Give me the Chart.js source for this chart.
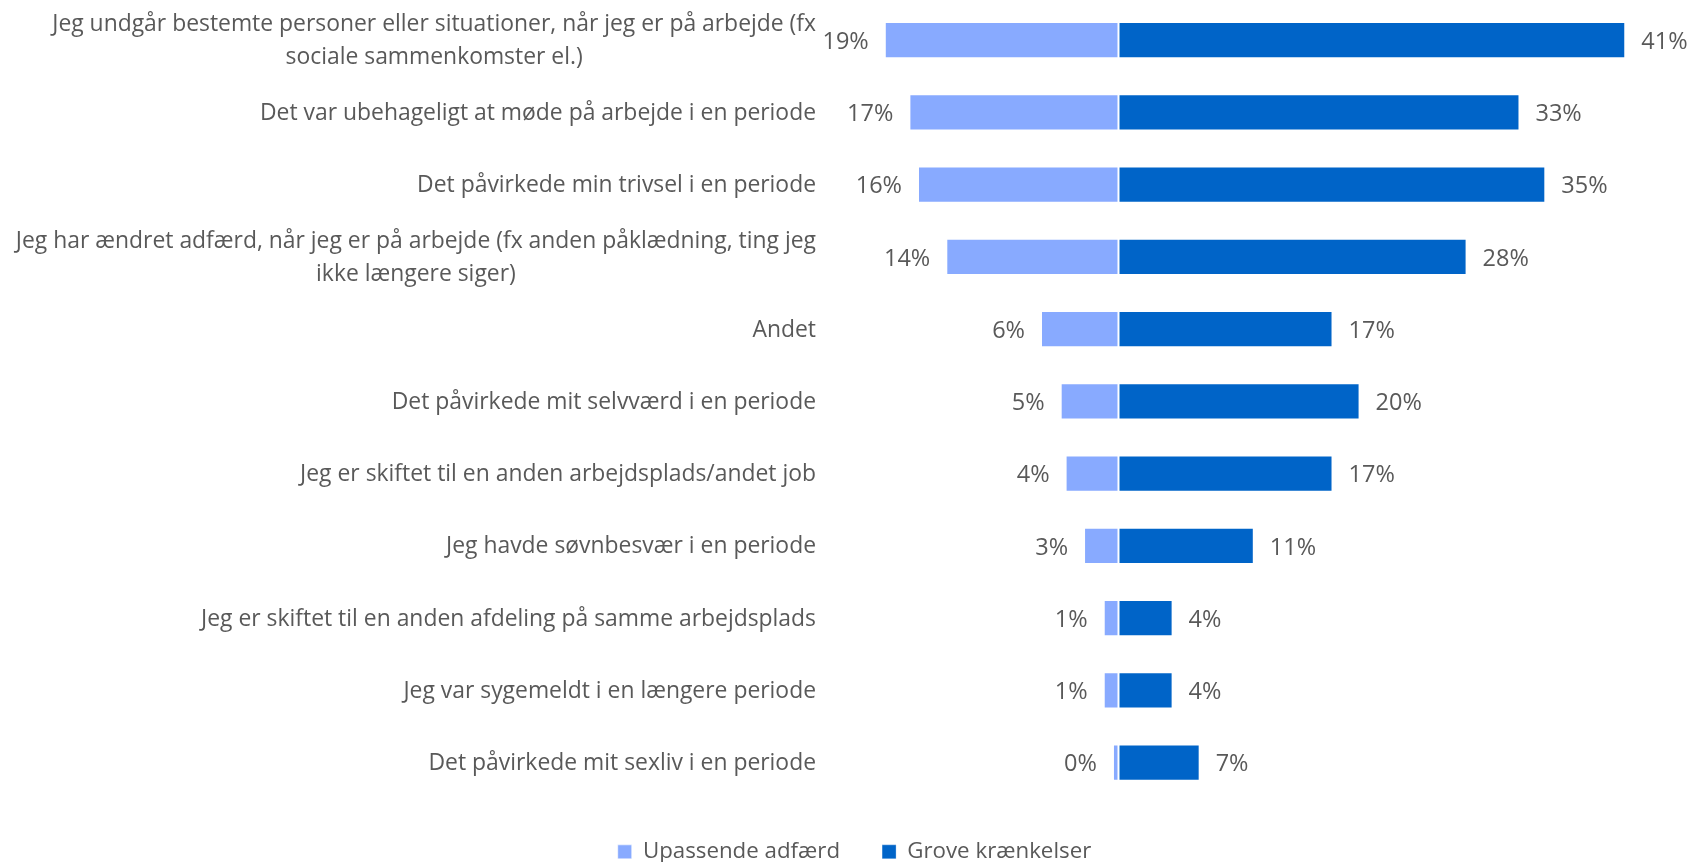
<!DOCTYPE html>
<html><head><meta charset="utf-8">
<script src="https://cdn.jsdelivr.net/npm/chart.js@4.4.1/dist/chart.umd.min.js"></script>
<style>html,body{margin:0;padding:0;background:#fff;}#wrap{width:1690px;height:862px;position:relative;}</style>
</head><body><div id="wrap"><canvas id="c"></canvas></div>
<script>
const categories = [
  ['Jeg undgår bestemte personer eller situationer, når jeg er på arbejde (fx', 'sociale sammenkomster el.)'],
  'Det var ubehageligt at møde på arbejde i en periode',
  'Det påvirkede min trivsel i en periode',
  ['Jeg har ændret adfærd, når jeg er på arbejde (fx anden påklædning, ting jeg', 'ikke længere siger)'],
  'Andet',
  'Det påvirkede mit selvværd i en periode',
  'Jeg er skiftet til en anden arbejdsplads/andet job',
  'Jeg havde søvnbesvær i en periode',
  'Jeg er skiftet til en anden afdeling på samme arbejdsplads',
  'Jeg var sygemeldt i en længere periode',
  'Det påvirkede mit sexliv i en periode'
];
const seriesNames = ['Upassende adfærd', 'Grove krænkelser'];
const upassende = [19.0, 17.0, 16.3, 14.0, 6.3, 4.7, 4.3, 2.8, 1.2, 1.2, 0.45];
const grove = [41.2, 32.6, 34.7, 28.3, 17.4, 19.6, 17.4, 11.0, 4.4, 4.4, 6.6];

const FONT = '"Open Sans", "Noto Sans", sans-serif';
const LABEL_SIZE = 22.9;
const VALUE_SIZE = 23.5;
const LEGEND_SIZE = 22.3;
const TEXT = '#595959';
const LIGHT = '#88aaff';
const DARK = '#0064c8';

const valueLabels = {
  id: 'valueLabels',
  afterDatasetsDraw(chart) {
    const ctx = chart.ctx;
    ctx.save();
    ctx.font = VALUE_SIZE + 'px ' + FONT;
    ctx.fillStyle = TEXT;
    ctx.textBaseline = 'middle';
    chart.data.datasets.forEach((ds, di) => {
      const meta = chart.getDatasetMeta(di);
      meta.data.forEach((bar, i) => {
        const txt = Math.round(Math.abs(ds.data[i])) + '%';
        if (di === 0) { ctx.textAlign = 'right'; ctx.fillText(txt, bar.x - 16, bar.y + 2); }
        else { ctx.textAlign = 'left'; ctx.fillText(txt, bar.x + 16, bar.y + 2); }
      });
    });
    ctx.restore();
  }
};

const catLabels = {
  id: 'catLabels',
  afterDraw(chart) {
    const ctx = chart.ctx;
    const ys = chart.scales.y;
    ctx.save();
    ctx.font = LABEL_SIZE + 'px ' + FONT;
    ctx.fillStyle = TEXT;
    ctx.textBaseline = 'middle';
    ctx.textAlign = 'center';
    const right = ys.right - 10;
    chart.data.labels.forEach((lab, i) => {
      const lines = Array.isArray(lab) ? lab : [lab];
      const cy = ys.getPixelForValue(i);
      const w = Math.max(...lines.map(l => ctx.measureText(l).width));
      const cx = right - w / 2;
      lines.forEach((l, j) => ctx.fillText(l, cx, cy + 1 + (j - (lines.length - 1) / 2) * 33));
    });
    ctx.restore();
  }
};

new Chart(document.getElementById('c'), {
  type: 'bar',
  data: {
    labels: categories,
    datasets: [
      { label: seriesNames[0], data: upassende.map(v => -v), backgroundColor: LIGHT,
        borderColor: 'rgba(255,255,255,0.55)', borderWidth: 1, borderSkipped: false,
        barPercentage: 0.5, categoryPercentage: 1.0 },
      { label: seriesNames[1], data: grove, backgroundColor: DARK,
        borderColor: 'rgba(255,255,255,0.3)', borderWidth: 1, borderSkipped: false,
        barPercentage: 0.5, categoryPercentage: 1.0 }
    ]
  },
  options: {
    indexAxis: 'y',
    responsive: true,
    maintainAspectRatio: false,
    animation: false,
    layout: { padding: { top: 4, right: 10, bottom: -11, left: 29 } },
    scales: {
      x: { display: false, stacked: true, min: -23.78, max: 45.65 },
      y: { stacked: true, grid: { display: false }, border: { display: false },
           ticks: { display: false }, afterFit(s) { s.width = 797; } }
    },
    plugins: {
      tooltip: { enabled: false },
      legend: {
        position: 'bottom',
        labels: { boxWidth: 14, boxHeight: 14, padding: 42, color: TEXT,
                  font: { family: FONT, size: LEGEND_SIZE } }
      }
    }
  },
  plugins: [valueLabels, catLabels]
});
</script></body></html>
